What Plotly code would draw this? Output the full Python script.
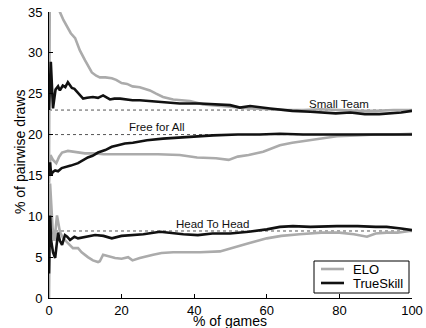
import plotly.graph_objects as go

# ---- data ----
st_elo_x = [0, 0.3, 1.5, 3.0, 4.0, 5.0, 6.0, 7.2, 8.5, 9.9, 11.0, 11.8, 13.0, 14.0, 15.5, 17.3, 18.5, 20.0, 21.5, 23.0, 25.0, 27.8, 29.5, 31.4, 34.2, 36.5, 38.8, 42.4, 45, 47.1, 50.7, 55.4, 60.9, 65, 70, 75, 80, 85, 90, 95, 100]
st_elo_y = [16, 45, 38, 35.0, 34.0, 33.1, 32.4, 31.8, 30.3, 29.1, 28.3, 27.6, 27.2, 27.0, 27.0, 26.9, 26.7, 26.3, 26.2, 25.9, 25.8, 25.4, 25.0, 24.6, 24.3, 24.2, 24.1, 23.7, 23.6, 23.5, 23.3, 23.2, 23.1, 23.0, 23.0, 23.1, 23.0, 22.9, 22.9, 23.0, 23.0]

st_ts_x = [0, 0.5, 1.1, 1.8, 2.5, 3.0, 3.8, 4.5, 5.2, 6.3, 7.0, 8.0, 9.4, 10.5, 12.1, 13.5, 14.9, 16.8, 18.0, 19.6, 21, 23.0, 25, 27.8, 31, 36.0, 41.6, 45, 49.9, 52.6, 55.4, 60.9, 63, 67, 72, 76, 79, 83, 87, 91, 94, 97, 100]
st_ts_y = [23, 28.9, 23.2, 25.5, 25.9, 25.4, 26.0, 25.8, 26.4, 25.7, 25.6, 25.1, 24.4, 24.5, 24.6, 24.5, 24.8, 24.3, 24.4, 24.4, 24.3, 24.2, 24.2, 24.1, 24.0, 23.8, 23.8, 23.7, 23.6, 23.3, 23.5, 23.2, 23.1, 22.9, 22.8, 22.7, 22.6, 22.7, 22.5, 22.5, 22.6, 22.7, 22.9]

ffa_elo_x = [0, 0.4, 1.1, 2.0, 2.8, 3.6, 5.2, 6.5, 8.0, 9.9, 12.7, 15, 17.3, 22.9, 30, 36, 40.8, 46, 49.5, 52, 55, 59, 63.6, 67, 70, 75, 79.3, 84.8, 90, 95, 100]
ffa_elo_y = [14, 17.5, 16.9, 16.5, 17.3, 17.8, 18.0, 17.9, 17.8, 17.7, 17.7, 17.6, 17.6, 17.6, 17.6, 17.5, 17.2, 17.1, 16.9, 17.3, 17.5, 17.9, 18.7, 19.0, 19.2, 19.5, 19.8, 19.9, 20.0, 20.0, 20.1]

ffa_ts_x = [0, 0.3, 0.6, 1.0, 1.7, 2.5, 3.5, 4.4, 6, 8, 9.5, 10.7, 12, 13.5, 15.5, 17.3, 19, 20.9, 23.1, 27, 31.4, 38, 45.2, 52, 58, 63.6, 70, 80, 90, 100]
ffa_ts_y = [15.0, 16.6, 15.0, 15.4, 15.6, 15.5, 15.9, 16.0, 16.2, 16.5, 16.9, 17.2, 17.4, 17.8, 18.1, 18.5, 18.7, 18.9, 19.0, 19.3, 19.5, 19.7, 19.9, 20.0, 20.0, 20.1, 20.0, 20.0, 20.0, 20.0]

h2h_elo_x = [0, 0.3, 1.0, 1.5, 2.2, 3.0, 3.9, 5.0, 5.8, 6.6, 8.0, 9.0, 10.7, 12.1, 13.5, 14.0, 14.9, 16.5, 18.2, 20, 21.8, 23, 25, 28.7, 31, 34.2, 38, 41.6, 47.1, 50.7, 55, 60, 64, 69, 75, 80, 84, 87.6, 90, 93, 96, 99.4, 100]
h2h_elo_y = [0, 14, 8.5, 7.0, 10.1, 8.1, 7.3, 6.8, 6.5, 6.1, 6.1, 5.6, 5.0, 4.6, 4.4, 4.5, 5.3, 5.1, 4.9, 4.8, 5.0, 4.6, 4.9, 5.3, 5.5, 5.6, 5.6, 5.6, 5.7, 6.2, 6.7, 7.3, 7.6, 7.8, 8.0, 8.0, 7.8, 7.5, 7.9, 8.0, 8.0, 8.2, 8.2]

h2h_ts_x = [0, 0.3, 0.6, 1.1, 1.7, 2.1, 2.5, 3.0, 3.6, 4.4, 5.0, 5.8, 7, 8, 10, 12.7, 15, 17.3, 20, 22.9, 26, 30.6, 34, 37, 41, 45, 49.9, 55, 60, 63.6, 67.2, 72, 79.3, 85, 90, 93, 97, 100]
h2h_ts_y = [3.0, 10.1, 7.0, 5.6, 4.9, 6.5, 8.0, 7.0, 6.5, 7.7, 7.5, 7.1, 7.5, 7.3, 7.5, 7.7, 7.6, 7.3, 7.6, 7.7, 7.8, 8.1, 7.9, 7.8, 7.7, 7.9, 7.9, 8.1, 8.4, 8.7, 8.8, 8.7, 8.8, 8.8, 8.7, 8.7, 8.5, 8.3]

ref_levels = [23.0, 20.0, 8.2]
group_labels = ["Small Team", "Free for All", "Head To Head"]
label_x = [80, 29.7, 45]
label_y = [23.8, 20.9, 9.0]

series_names = ["ELO", "TrueSkill"]
x_ticks = [0, 20, 40, 60, 80, 100]
y_ticks = [0, 5, 10, 15, 20, 25, 30, 35]

GRAY = "#ababab"
BLACK = "#111111"
FONT = "Liberation Sans, Arial, Helvetica, sans-serif"

# plot-area geometry in pixels (for placing titles / legend box)
W, H = 426, 328
L, R, T, B = 49, 14, 12, 30
PW, PH = W - L - R, H - T - B


def px_x(X):
    return (X - L) / PW


def px_y(Y):
    return (H - B - Y) / PH


fig = go.Figure()

# reference dotted lines
for lv in ref_levels:
    fig.add_trace(go.Scatter(x=[0, 100], y=[lv, lv], mode="lines",
                             line=dict(color="#555555", width=1, dash="dot"),
                             showlegend=False, hoverinfo="skip"))

elo_sets = [(st_elo_x, st_elo_y), (ffa_elo_x, ffa_elo_y), (h2h_elo_x, h2h_elo_y)]
ts_sets = [(st_ts_x, st_ts_y), (ffa_ts_x, ffa_ts_y), (h2h_ts_x, h2h_ts_y)]

for xs, ys in elo_sets:
    fig.add_trace(go.Scatter(x=xs, y=ys, mode="lines", name="ELO",
                             showlegend=False, line=dict(color=GRAY, width=2.6)))
for xs, ys in ts_sets:
    fig.add_trace(go.Scatter(x=xs, y=ys, mode="lines", name="TrueSkill",
                             showlegend=False, line=dict(color=BLACK, width=2.6)))

for txt, lx, ly in zip(group_labels, label_x, label_y):
    fig.add_annotation(x=lx, y=ly, text=txt, showarrow=False,
                       font=dict(size=11.5, color="#111111", family=FONT),
                       xanchor="center", yanchor="middle")

# axis titles
fig.add_annotation(xref="paper", yref="paper", x=px_x(230), y=px_y(320.5),
                   text="% of games", showarrow=False,
                   font=dict(size=14, family=FONT, color="black"),
                   xanchor="center", yanchor="middle")
fig.add_annotation(xref="paper", yref="paper", x=px_x(20), y=px_y(152),
                   text="% of pairwise draws", showarrow=False, textangle=-90,
                   font=dict(size=14, family=FONT, color="black"),
                   xanchor="center", yanchor="middle")

# legend box (drawn manually to match the compact reference legend)
fig.add_shape(type="rect", xref="paper", yref="paper",
              x0=px_x(314), x1=px_x(409), y0=px_y(293), y1=px_y(261),
              line=dict(color="black", width=1), fillcolor="white", layer="above")
for name, col, yy in zip(series_names, [GRAY, BLACK], [269, 283]):
    fig.add_shape(type="line", xref="paper", yref="paper",
                  x0=px_x(321), x1=px_x(344), y0=px_y(yy), y1=px_y(yy),
                  line=dict(color=col, width=2.6), layer="above")
    fig.add_annotation(xref="paper", yref="paper", x=px_x(351), y=px_y(yy),
                       text=name, showarrow=False, xanchor="left", yanchor="middle",
                       font=dict(size=13, family=FONT, color="black"))

fig.update_layout(
    width=W, height=H,
    margin=dict(l=L, r=R, t=T, b=B),
    paper_bgcolor="white", plot_bgcolor="white",
    font=dict(family=FONT, size=13, color="black"),
    showlegend=False,
)
fig.update_xaxes(range=[0, 100], tickvals=x_ticks, ticks="inside", ticklen=4,
                 tickcolor="black", showline=True, linecolor="black", linewidth=1,
                 showgrid=False, zeroline=False, automargin=False,
                 tickfont=dict(size=13))
fig.update_yaxes(range=[0, 35], tickvals=y_ticks, ticks="inside", ticklen=4,
                 tickcolor="black", showline=True, linecolor="black", linewidth=1,
                 showgrid=False, zeroline=False, automargin=False,
                 ticklabelstandoff=3, tickfont=dict(size=13))

fig.write_html("out.html", config={"displayModeBar": False},
               post_script="document.body.style.margin='0px';document.body.style.overflow='hidden';")
